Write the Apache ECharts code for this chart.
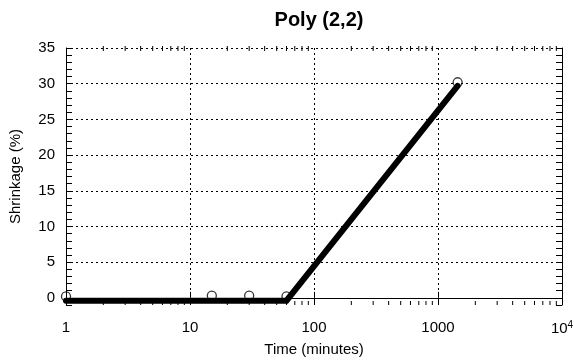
<!DOCTYPE html>
<html>
<head>
<meta charset="utf-8">
<script src="https://cdn.jsdelivr.net/npm/echarts@6/dist/echarts.min.js"></script>
<style>
  html, body { margin: 0; padding: 0; background: #fff; }
  #chart { width: 574px; height: 360px; }
</style>
</head>
<body>
<div id="chart"></div>
<script>
// measured points (time in minutes, shrinkage %)
const timePoints = [1, 15, 30, 60, 1440];
const shrinkPoints = [0.2, 0.3, 0.3, 0.2, 30.2];

// fitted bilinear curve
const fitTimes = [1, 60, 1440];
const fitShrink = [-0.4, -0.4, 29.7];

// x tick labels (log decades)
const xTickValues = [1, 10, 100, 1000, 10000];
const xMinorTicks = [2, 3, 4, 5, 6, 7, 8, 9,
  20, 30, 40, 50, 60, 70, 80, 90,
  200, 300, 400, 500, 600, 700, 800, 900,
  2000, 3000, 4000, 5000, 6000, 7000, 8000, 9000];

const FONT = "Liberation Sans";
const Y_MIN = -1;
const Y_MAX = 35;

const chart = echarts.init(document.getElementById("chart"), null, { renderer: "canvas" });

const frameLine = { show: true, lineStyle: { color: "#000", width: 1 } };
const dotted = { color: "#000", width: 1, type: [2, 3] };

chart.setOption({
  backgroundColor: "#fff",
  animation: false,
  title: {
    text: "Poly (2,2)",
    left: 314,
    textAlign: "center",
    top: 5,
    textStyle: { fontFamily: FONT, fontSize: 20, fontWeight: "bold", color: "#000" },
  },
  grid: { left: 66, right: 12, top: 48, bottom: 55, outerBoundsMode: "none", containLabel: false },
  xAxis: [
    {
      type: "log",
      logBase: 10,
      min: 1,
      max: 10000,
      position: "bottom",
      name: "Time (minutes)",
      nameLocation: "middle",
      nameGap: 37,
      nameTextStyle: { fontFamily: FONT, fontSize: 15, color: "#000" },
      axisLine: frameLine,
      axisTick: { show: true, inside: true, length: 6, lineStyle: { color: "#000" } },
      splitLine: { show: true, lineStyle: dotted },
      axisLabel: {
        margin: 15,
        fontFamily: FONT,
        fontSize: 15,
        color: "#000",
        formatter: (v) => (v >= 10000 ? "{b|10}{s|4}" : String(Math.round(v))),
        rich: {
          b: { fontFamily: FONT, fontSize: 15, color: "#000" },
          s: { fontFamily: FONT, fontSize: 10, color: "#000", verticalAlign: "top", padding: [0, 0, 8, 0] },
        },
      },
    },
    {
      type: "log",
      logBase: 10,
      min: 1,
      max: 10000,
      position: "top",
      axisLine: frameLine,
      axisTick: { show: true, inside: true, length: 6, lineStyle: { color: "#000" } },
      axisLabel: { show: false },
      splitLine: { show: false },
    },
  ],
  yAxis: [
    {
      type: "value",
      min: Y_MIN,
      max: Y_MAX,
      interval: 1,
      position: "left",
      name: "Shrinkage (%)",
      nameLocation: "middle",
      nameGap: 43,
      nameTextStyle: { fontFamily: FONT, fontSize: 15, color: "#000" },
      axisLine: frameLine,
      axisTick: { show: true, inside: true, length: 6, lineStyle: { color: "#000" } },
      splitLine: {
        show: true,
        lineStyle: {
          color: ["rgba(0,0,0,0)", "#000", "rgba(0,0,0,0)", "rgba(0,0,0,0)", "rgba(0,0,0,0)"],
          width: 1,
          type: [2, 3],
        },
      },
      axisLabel: {
        margin: 11,
        fontFamily: FONT,
        fontSize: 15,
        color: "#000",
        formatter: (v) => (v >= 0 && v % 5 === 0 ? String(v) : ""),
      },
    },
    {
      type: "value",
      min: Y_MIN,
      max: Y_MAX,
      interval: 1,
      position: "right",
      axisLine: frameLine,
      axisTick: { show: true, inside: true, length: 6, lineStyle: { color: "#000" } },
      axisLabel: { show: false },
      splitLine: { show: false },
    },
  ],
  series: [
    {
      // minor log ticks on bottom and top edges
      type: "custom",
      xAxisIndex: 0,
      yAxisIndex: 0,
      silent: true,
      clip: false,
      data: xMinorTicks.map((v) => [v]),
      encode: { x: 0 },
      renderItem: (params, api) => {
        const v = api.value(0);
        const b = api.coord([v, Y_MIN]);
        const t = api.coord([v, Y_MAX]);
        const style = { stroke: "#000", lineWidth: 1 };
        return {
          type: "group",
          children: [
            { type: "line", shape: { x1: b[0], y1: b[1], x2: b[0], y2: b[1] - 4 }, style },
            { type: "line", shape: { x1: t[0], y1: t[1] - 2, x2: t[0], y2: t[1] + 3 }, style },
          ],
        };
      },
    },
    {
      name: "fit",
      type: "line",
      data: fitTimes.map((t, i) => [t, fitShrink[i]]),
      symbol: "none",
      lineStyle: { color: "#000", width: 6, cap: "round", join: "miter" },
      z: 3,
    },
    {
      name: "measured",
      type: "scatter",
      data: timePoints.map((t, i) => [t, shrinkPoints[i]]),
      symbol: "circle",
      symbolSize: 9,
      itemStyle: { color: "rgba(255,255,255,0)", borderColor: "#000", borderWidth: 1.3 },
      clip: false,
      z: 4,
    },
  ],
});
</script>
</body>
</html>
